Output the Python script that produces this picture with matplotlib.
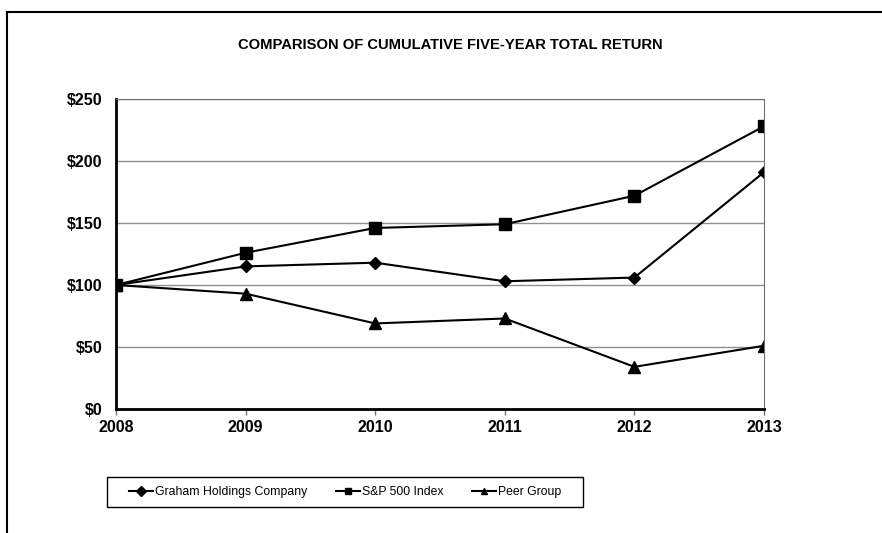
import numpy as np
import matplotlib
matplotlib.use("Agg")
from matplotlib import pyplot as plt
from matplotlib.lines import Line2D
from matplotlib.patches import Rectangle

plt.rcParams['font.family'] = ['Liberation Sans', 'DejaVu Sans']

years = [2008, 2009, 2010, 2011, 2012, 2013]
graham = [100, 115, 118, 103, 106, 191]
sp500 = [100, 126, 146, 149, 172, 228]
peer = [100, 93, 69, 73, 34, 51]
y_ticks = [0, 50, 100, 150, 200, 250]

fig = plt.figure(figsize=(8.82, 5.33), dpi=100)
ax = fig.add_axes([116/882, 1 - 409/533, 648/882, 310/533])

ax.plot(years, graham, color='black', lw=1.5, marker='D', ms=6, label='Graham Holdings Company')
ax.plot(years, sp500, color='black', lw=1.5, marker='s', ms=9, label='S&P 500 Index')
ax.plot(years, peer, color='black', lw=1.5, marker='^', ms=9, label='Peer Group')

ax.set_xlim(2008, 2013)
ax.set_ylim(0, 250)
ax.set_xticks(years)
ax.set_yticks(y_ticks)
ax.set_yticklabels(['$%d' % v for v in y_ticks])
ax.grid(axis='y', color='#909090', lw=1)
ax.set_axisbelow(True)
for lab in ax.get_xticklabels() + ax.get_yticklabels():
    lab.set_fontweight('bold')
    lab.set_fontsize(11.5)
ax.tick_params(axis='y', length=0, pad=10)
ax.tick_params(axis='x', length=4, width=1, color='#707070', pad=4)
ax.spines['left'].set_linewidth(2)
ax.spines['bottom'].set_linewidth(2)
ax.spines['top'].set_color('#707070')
ax.spines['right'].set_color('#707070')

fig.text(0.51, 1 - 45/533, 'COMPARISON OF CUMULATIVE FIVE-YEAR TOTAL RETURN',
         ha='center', va='center', fontsize=10.6, fontweight='bold')

# legend box drawn separately so its size matches
box = (107/882, 1 - 507/533, 476/882, 30/533)
fig.add_artist(Rectangle(box[:2], box[2], box[3], transform=fig.transFigure,
                         fill=False, edgecolor='black', lw=1))
leg = fig.legend(loc='center', bbox_to_anchor=box, ncol=3, frameon=False,
                 fontsize=8.8, handlelength=2.0, handletextpad=0.15,
                 columnspacing=2.3, borderaxespad=0)
for h in leg.legend_handles:
    h.set_markersize(5)

# outer frame (top and left edges)
fig.add_artist(Line2D([7/882, 1], [1 - 12/533, 1 - 12/533], color='black', lw=1.5))
fig.add_artist(Line2D([7/882, 7/882], [0, 1 - 12/533], color='black', lw=1.5))

plt.savefig('out.png', dpi=100)
